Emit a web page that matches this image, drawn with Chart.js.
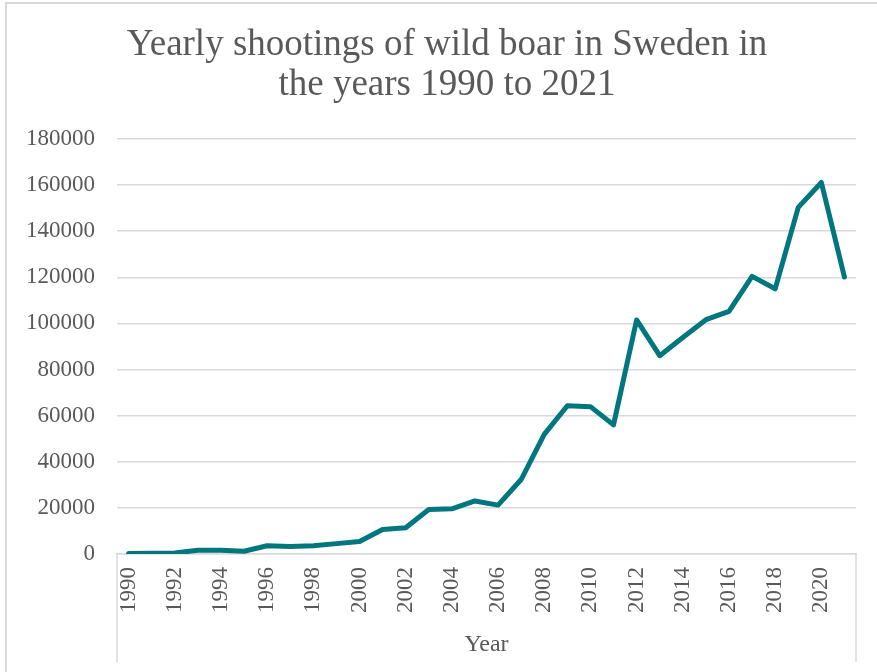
<!DOCTYPE html>
<html>
<head>
<meta charset="utf-8">
<script src="https://cdn.jsdelivr.net/npm/chart.js@4/dist/chart.umd.min.js"></script>
<style>
    html, body { margin: 0; padding: 0; background: #fff; overflow: hidden; }
    #frame {
        position: absolute; left: 5px; top: 2px; width: 900px; height: 700px;
        border: 2px solid #d9d9d9; box-sizing: border-box;
    }
    #wrap { position: absolute; left: 0; top: 0; width: 877px; height: 672px; }
</style>
</head>
<body>
<div id="frame"></div>
<div id="wrap"><canvas id="boarChart"></canvas></div>
<script>
const years = ['1990', '1991', '1992', '1993', '1994', '1995', '1996', '1997', '1998', '1999',
    '2000', '2001', '2002', '2003', '2004', '2005', '2006', '2007', '2008', '2009',
    '2010', '2011', '2012', '2013', '2014', '2015', '2016', '2017', '2018', '2019',
    '2020', '2021'];
const shootings = [200, 300, 450, 1600, 1600, 1200, 3600, 3300, 3600, 4500,
    5400, 10600, 11400, 19300, 19600, 23000, 21200, 32300, 51900, 64300,
    63900, 56000, 101500, 86000, 93900, 101600, 105200, 120400, 115000, 150300,
    161100, 120100];
const yTicks = [0, 20000, 40000, 60000, 80000, 100000, 120000, 140000, 160000, 180000];

const FONT = '"Liberation Serif", "Times New Roman", serif';
const TEXT = '#595959';
const GRID = '#d9d9d9';

// side walls of the category axis box, below the plot
const axisBox = {
    id: 'axisBox',
    afterDraw(chart) {
        const {ctx, chartArea} = chart;
        const bottom = chart.scales.x.bottom;
        ctx.save();
        ctx.strokeStyle = GRID;
        ctx.lineWidth = 1.5;
        ctx.beginPath();
        ctx.moveTo(chartArea.left, chartArea.bottom);
        ctx.lineTo(chartArea.left, bottom);
        ctx.moveTo(chartArea.right, chartArea.bottom);
        ctx.lineTo(chartArea.right, bottom);
        ctx.stroke();
        ctx.restore();
    }
};

new Chart(document.getElementById('boarChart'), {
    type: 'line',
    data: {
        labels: years,
        datasets: [{
            label: 'Shootings',
            data: shootings,
            borderColor: '#00767f',
            borderWidth: 5,
            borderJoinStyle: 'round',
            borderCapStyle: 'round',
            pointRadius: 0,
            tension: 0,
            fill: false
        }]
    },
    options: {
        responsive: true,
        maintainAspectRatio: false,
        animation: false,
        layout: { padding: { left: 17, right: 0, top: 0, bottom: 10 } },
        plugins: {
            legend: { display: false },
            tooltip: { enabled: false },
            title: {
                display: true,
                text: ['Yearly shootings of wild boar in Sweden in', 'the years 1990 to 2021'],
                color: TEXT,
                font: { family: FONT, size: 37, weight: 'normal', lineHeight: 1.08 },
                padding: { top: 25, bottom: 34 }
            }
        },
        scales: {
            x: {
                offset: true,
                grid: { drawOnChartArea: false, drawTicks: false },
                border: { display: true, color: GRID, width: 1.5 },
                ticks: {
                    autoSkip: false,
                    minRotation: 90,
                    maxRotation: 90,
                    padding: 13,
                    color: TEXT,
                    font: { family: FONT, size: 23 },
                    callback: (val, i) => (i % 2 === 0 ? years[i] : '')
                },
                title: {
                    display: true,
                    text: 'Year',
                    color: TEXT,
                    font: { family: FONT, size: 24 },
                    padding: { top: 0, bottom: 3 }
                },
                afterFit: s => {
                    s.height = 108;
                    s.paddingLeft = 0;
                    s.paddingRight = 21;
                }
            },
            y: {
                min: 0,
                max: 180000,
                grid: { color: GRID, lineWidth: 1.5, drawTicks: false },
                border: { display: false },
                afterBuildTicks: s => { s.ticks = yTicks.map(v => ({ value: v })); },
                ticks: {
                    padding: 22,
                    color: TEXT,
                    font: { family: FONT, size: 23 },
                    callback: v => String(v)
                },
                afterFit: s => { s.width = 100; }
            }
        }
    },
    plugins: [axisBox]
});
</script>
</body>
</html>
